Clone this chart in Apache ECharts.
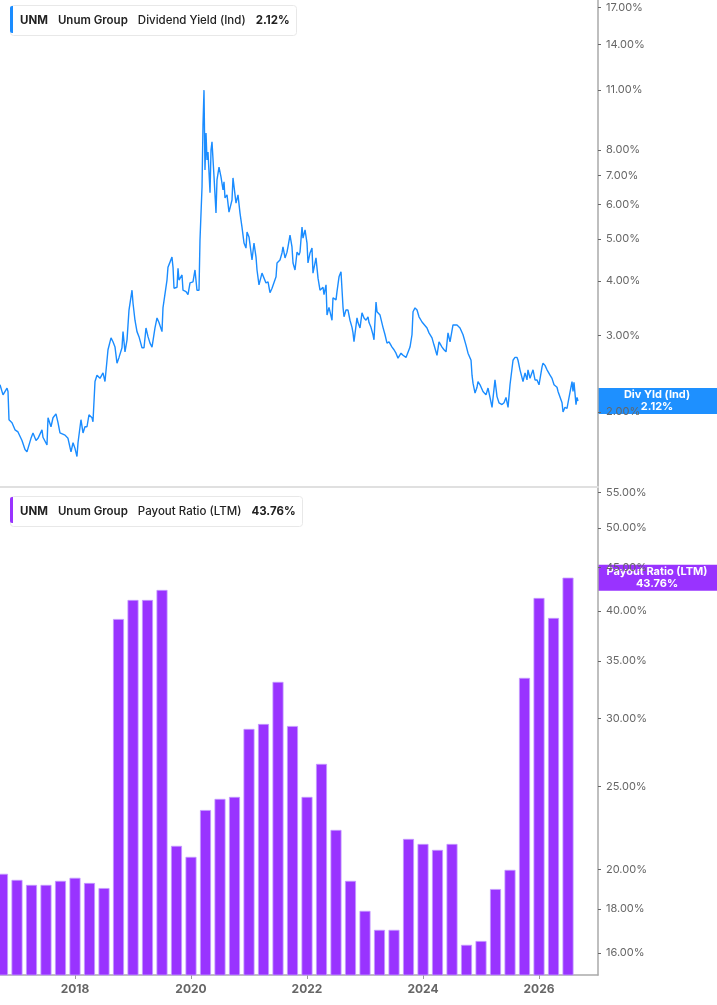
<!DOCTYPE html>
<html>
<head>
<meta charset="utf-8">
<script src="https://cdn.jsdelivr.net/npm/echarts@6/dist/echarts.min.js"></script>
<style>
  html, body { margin: 0; padding: 0; background: #fff; }
  #chart { width: 717px; height: 1005px; }
</style>
</head>
<body>
<div id="chart"></div>
<script>
// UNM dividend yield (Ind) (decimal year, %)
var yieldYears = [
  2016.707, 2016.759, 2016.828, 2016.845, 2016.862, 2016.914, 2016.966, 2017.017, 2017.086, 2017.138,
  2017.172, 2017.241, 2017.276, 2017.328, 2017.362, 2017.431, 2017.448, 2017.517, 2017.535, 2017.586,
  2017.621, 2017.672, 2017.707, 2017.741, 2017.828, 2017.879, 2017.931, 2017.966, 2018.000, 2018.034,
  2018.052, 2018.103, 2018.138, 2018.172, 2018.207, 2018.241, 2018.293, 2018.310, 2018.345, 2018.379,
  2018.431, 2018.483, 2018.517, 2018.552, 2018.569, 2018.621, 2018.655, 2018.690, 2018.724, 2018.759,
  2018.810, 2018.828, 2018.862, 2018.897, 2018.931, 2018.983, 2019.000, 2019.034, 2019.069, 2019.103,
  2019.155, 2019.190, 2019.224, 2019.259, 2019.293, 2019.328, 2019.379, 2019.414, 2019.448, 2019.500,
  2019.517, 2019.586, 2019.603, 2019.638, 2019.672, 2019.690, 2019.707, 2019.759, 2019.776, 2019.793,
  2019.845, 2019.862, 2019.914, 2019.948, 2019.983, 2020.034, 2020.069, 2020.103, 2020.138, 2020.155,
  2020.190, 2020.207, 2020.224, 2020.241, 2020.259, 2020.276, 2020.293, 2020.328, 2020.345, 2020.362,
  2020.397, 2020.431, 2020.448, 2020.483, 2020.517, 2020.552, 2020.569, 2020.586, 2020.621, 2020.655,
  2020.707, 2020.724, 2020.776, 2020.810, 2020.845, 2020.879, 2020.914, 2020.948, 2020.966, 2021.000,
  2021.052, 2021.086, 2021.121, 2021.138, 2021.172, 2021.224, 2021.241, 2021.293, 2021.328, 2021.362,
  2021.397, 2021.431, 2021.466, 2021.483, 2021.534, 2021.569, 2021.586, 2021.621, 2021.655, 2021.672,
  2021.707, 2021.741, 2021.759, 2021.793, 2021.828, 2021.862, 2021.879, 2021.914, 2021.931, 2021.966,
  2022.000, 2022.017, 2022.052, 2022.086, 2022.103, 2022.155, 2022.190, 2022.224, 2022.276, 2022.293,
  2022.328, 2022.345, 2022.379, 2022.431, 2022.448, 2022.500, 2022.517, 2022.552, 2022.586, 2022.621,
  2022.638, 2022.672, 2022.707, 2022.741, 2022.776, 2022.793, 2022.810, 2022.862, 2022.879, 2022.914,
  2022.948, 2022.983, 2023.017, 2023.052, 2023.069, 2023.103, 2023.138, 2023.155, 2023.190, 2023.207,
  2023.259, 2023.310, 2023.345, 2023.379, 2023.414, 2023.466, 2023.500, 2023.534, 2023.569, 2023.621,
  2023.655, 2023.707, 2023.741, 2023.776, 2023.810, 2023.828, 2023.862, 2023.897, 2023.931, 2023.983,
  2024.017, 2024.069, 2024.103, 2024.155, 2024.190, 2024.241, 2024.276, 2024.328, 2024.362, 2024.397,
  2024.431, 2024.466, 2024.517, 2024.586, 2024.638, 2024.672, 2024.690, 2024.741, 2024.776, 2024.828,
  2024.845, 2024.862, 2024.897, 2024.931, 2024.948, 2024.983, 2025.017, 2025.034, 2025.086, 2025.121,
  2025.155, 2025.190, 2025.207, 2025.241, 2025.276, 2025.310, 2025.362, 2025.397, 2025.431, 2025.466,
  2025.500, 2025.534, 2025.552, 2025.586, 2025.621, 2025.638, 2025.672, 2025.724, 2025.759, 2025.793,
  2025.810, 2025.845, 2025.897, 2025.931, 2025.966, 2026.000, 2026.052, 2026.069, 2026.103, 2026.138,
  2026.155, 2026.190, 2026.224, 2026.259, 2026.310, 2026.328, 2026.362, 2026.397, 2026.414, 2026.448,
  2026.483, 2026.500, 2026.534, 2026.569, 2026.586, 2026.603, 2026.638, 2026.655, 2026.672
];
var yieldValues = [
  2.31, 2.19, 2.27, 2.23, 1.92, 1.89, 1.82, 1.80, 1.72, 1.64,
  1.62, 1.74, 1.79, 1.72, 1.74, 1.82, 1.75, 1.68, 1.94, 1.85,
  1.94, 1.98, 1.89, 1.79, 1.77, 1.74, 1.62, 1.70, 1.65, 1.58,
  1.70, 1.92, 1.79, 1.85, 1.85, 1.97, 1.94, 1.90, 2.35, 2.43,
  2.39, 2.46, 2.35, 2.63, 2.78, 2.96, 2.90, 2.82, 2.59, 2.67,
  2.81, 3.06, 2.75, 2.93, 3.43, 3.81, 3.56, 3.25, 3.06, 2.98,
  2.81, 2.81, 3.12, 2.98, 2.88, 2.82, 3.12, 3.29, 3.21, 3.06,
  3.47, 4.02, 4.30, 4.42, 4.54, 4.30, 3.85, 3.87, 4.28, 4.02,
  4.13, 3.81, 3.78, 3.72, 3.96, 3.98, 4.24, 3.81, 3.81, 4.97,
  6.58, 9.13, 10.98, 7.20, 8.75, 7.59, 7.91, 6.38, 8.00, 8.35,
  6.94, 5.73, 6.83, 7.31, 6.94, 6.48, 6.76, 6.21, 6.31, 5.76,
  6.14, 6.90, 6.04, 6.31, 5.73, 5.32, 4.89, 4.76, 5.18, 5.05,
  4.47, 4.89, 4.54, 4.24, 3.92, 4.17, 4.17, 3.96, 3.98, 3.76,
  3.85, 3.81, 4.09, 4.40, 4.47, 4.64, 4.79, 4.52, 4.66, 4.79,
  5.10, 4.79, 4.40, 4.24, 4.66, 4.59, 4.66, 5.32, 5.02, 5.24,
  4.89, 4.40, 4.64, 4.76, 4.17, 4.52, 4.06, 3.81, 3.87, 3.72,
  3.92, 3.34, 3.48, 3.25, 3.66, 3.62, 3.78, 4.09, 4.20, 3.48,
  3.31, 3.43, 3.43, 3.25, 3.13, 3.04, 2.90, 3.29, 3.21, 3.12,
  3.38, 3.29, 3.25, 3.31, 3.21, 3.13, 3.01, 2.93, 3.58, 3.40,
  3.34, 3.13, 3.01, 2.88, 2.90, 2.82, 2.78, 2.73, 2.66, 2.73,
  2.70, 2.67, 2.66, 2.82, 3.01, 3.40, 3.47, 3.43, 3.31, 3.22,
  3.25, 3.12, 3.04, 2.96, 2.85, 2.70, 2.90, 2.82, 2.78, 2.75,
  3.04, 2.90, 3.17, 3.17, 3.12, 3.13, 3.01, 2.85, 2.73, 2.63,
  2.43, 2.33, 2.21, 2.28, 2.35, 2.31, 2.33, 2.23, 2.19, 2.27,
  2.16, 2.05, 2.04, 2.37, 2.17, 2.10, 2.08, 2.10, 2.16, 2.05,
  2.31, 2.33, 2.63, 2.67, 2.67, 2.63, 2.50, 2.35, 2.46, 2.37,
  2.50, 2.39, 2.50, 2.37, 2.37, 2.31, 2.54, 2.59, 2.56, 2.50,
  2.52, 2.43, 2.39, 2.31, 2.28, 2.23, 2.22, 2.10, 2.00, 2.05,
  2.04, 2.10, 2.11, 2.35, 2.23, 2.34, 2.08, 2.16, 2.12
];

// quarterly payout ratio (LTM), %
var payoutQuarters = [
  2016.75, 2017.00, 2017.25, 2017.50, 2017.75, 2018.00, 2018.25, 2018.50, 2018.75, 2019.00,
  2019.25, 2019.50, 2019.75, 2020.00, 2020.25, 2020.50, 2020.75, 2021.00, 2021.25, 2021.50,
  2021.75, 2022.00, 2022.25, 2022.50, 2022.75, 2023.00, 2023.25, 2023.50, 2023.75, 2024.00,
  2024.25, 2024.50, 2024.75, 2025.00, 2025.25, 2025.50, 2025.75, 2026.00, 2026.25, 2026.50
];
var payoutValues = [
  19.78, 19.46, 19.20, 19.20, 19.41, 19.57, 19.30, 19.04, 39.17, 41.22,
  41.22, 42.34, 21.32, 20.70, 23.47, 24.18, 24.31, 29.17, 29.56, 33.09,
  29.40, 24.31, 26.56, 22.25, 19.41, 17.91, 17.02, 17.02, 21.72, 21.43,
  21.09, 21.43, 16.35, 16.52, 18.99, 19.99, 33.45, 41.44, 39.28, 43.76
];

var yearTicks = [2018, 2020, 2022, 2024, 2026];
var yieldTicks = [2, 3, 4, 5, 6, 7, 8, 11, 14, 17];
var payoutTicks = [16, 18, 20, 25, 30, 35, 40, 45, 50, 55];

var lastYield = 2.12;
var lastPayout = 43.76;

var FONT = 'Inter, "Noto Sans", sans-serif';
var BLUE = '#1a8cff';
var PURPLE = '#9933ff';

var chart = echarts.init(document.getElementById('chart'));

function pct(v) { return v.toFixed(2) + '%'; }

function header(top, label, value) {
    var base = { fontFamily: FONT, fontSize: 11.5, color: '#222' };
    return {
        left: 10, top: top,
        text: '{a|UNM}  {b|Unum Group}  {c|' + label + '}  {d|' + value + '}',
        padding: [7, 7, 6, 10],
        borderColor: '#e8e8e8', borderWidth: 1, borderRadius: 3,
        backgroundColor: '#fff',
        textStyle: {
            rich: {
                a: Object.assign({ fontWeight: 'bold' }, base),
                b: Object.assign({ fontWeight: 600 }, base),
                c: Object.assign({ fontWeight: 500 }, base),
                d: Object.assign({ fontWeight: 'bold' }, base)
            }
        }
    };
}

var yieldData = [];
for (var i = 0; i < yieldYears.length; i++) yieldData.push([yieldYears[i], yieldValues[i]]);
var payoutData = [];
for (var j = 0; j < payoutQuarters.length; j++) payoutData.push([payoutQuarters[j], payoutValues[j]]);

var option = {
    animation: false,
    title: [
        header(5, 'Dividend Yield (Ind)', pct(lastYield)),
        header(496, 'Payout Ratio (LTM)', pct(lastPayout))
    ],
    grid: [
        { left: 0, right: 119, top: 0, height: 487 },
        { left: 0, right: 119, top: 487, height: 488 }
    ],
    xAxis: [{
        gridIndex: 0, type: 'value', min: 2016.707, max: 2027.017,
        axisLine: { show: true, onZero: false, lineStyle: { color: '#e0e0e0', width: 2 } },
        axisTick: { show: false }, axisLabel: { show: false }, splitLine: { show: false }
    }, {
        gridIndex: 1, type: 'value', min: 2016.707, max: 2027.017,
        axisLine: { show: true, onZero: false, lineStyle: { color: '#aaa', width: 1.5 } },
        axisTick: { show: true, length: 4, lineStyle: { color: '#999' }, customValues: yearTicks },
        axisLabel: {
            customValues: yearTicks, margin: 8,
            fontFamily: FONT, fontSize: 12, fontWeight: 'bold', color: '#666',
            formatter: function (v) { return String(Math.round(v)); }
        },
        splitLine: { show: false }
    }],
    yAxis: [{
        gridIndex: 0, type: 'log', position: 'right', min: 1.345, max: 17.69,
        axisLine: { show: true, lineStyle: { color: '#aaa', width: 1.5 } },
        axisTick: { show: true, length: 3, lineStyle: { color: '#666' }, customValues: yieldTicks },
        axisLabel: { customValues: yieldTicks, margin: 8, fontFamily: FONT, fontSize: 11, color: '#666', formatter: pct },
        splitLine: { show: false }
    }, {
        gridIndex: 1, type: 'log', position: 'right', min: 15.08, max: 55.8,
        axisLine: { show: true, lineStyle: { color: '#aaa', width: 1.5 } },
        axisTick: { show: true, length: 3, lineStyle: { color: '#666' }, customValues: payoutTicks },
        axisLabel: { customValues: payoutTicks, margin: 8, fontFamily: FONT, fontSize: 11, color: '#666', formatter: pct },
        splitLine: { show: false }
    }],
    series: [{
        name: 'Dividend Yield (Ind)',
        type: 'line',
        xAxisIndex: 0, yAxisIndex: 0,
        data: yieldData,
        showSymbol: false,
        lineStyle: { color: BLUE, width: 1.4 }
    }, {
        name: 'Payout Ratio (LTM)',
        type: 'bar',
        xAxisIndex: 1, yAxisIndex: 1,
        data: payoutData,
        barWidth: 11,
        itemStyle: { color: PURPLE, borderColor: '#c49bff', borderWidth: 0.8 }
    }]
};

chart.setOption(option);

// colour strips on the headers and value tags on the axis
var yTag1 = chart.convertToPixel({ yAxisIndex: 0 }, lastYield);
var yTag2 = chart.convertToPixel({ yAxisIndex: 1 }, lastPayout);

function tag(y, color, line1, line2) {
    return {
        type: 'group', z: 100,
        children: [{
            type: 'rect', shape: { x: 598, y: y - 13, width: 119, height: 26 },
            style: { fill: color }
        }, {
            type: 'text', x: 657, y: y,
            style: {
                text: line1 + '\n' + line2, fill: '#fff', align: 'center', verticalAlign: 'middle',
                font: 'bold 11px ' + FONT, lineHeight: 12
            }
        }]
    };
}

chart.setOption({
    graphic: [
        { type: 'rect', z: 100, shape: { x: 10, y: 6, width: 3, height: 27, r: [2, 0, 0, 2] }, style: { fill: BLUE } },
        { type: 'rect', z: 100, shape: { x: 10, y: 497, width: 3, height: 26, r: [2, 0, 0, 2] }, style: { fill: PURPLE } },
        tag(yTag1, '#1e90ff', 'Div Yld (Ind)', pct(lastYield)),
        tag(yTag2, PURPLE, 'Payout Ratio (LTM)', pct(lastPayout))
    ]
});
</script>
</body>
</html>
